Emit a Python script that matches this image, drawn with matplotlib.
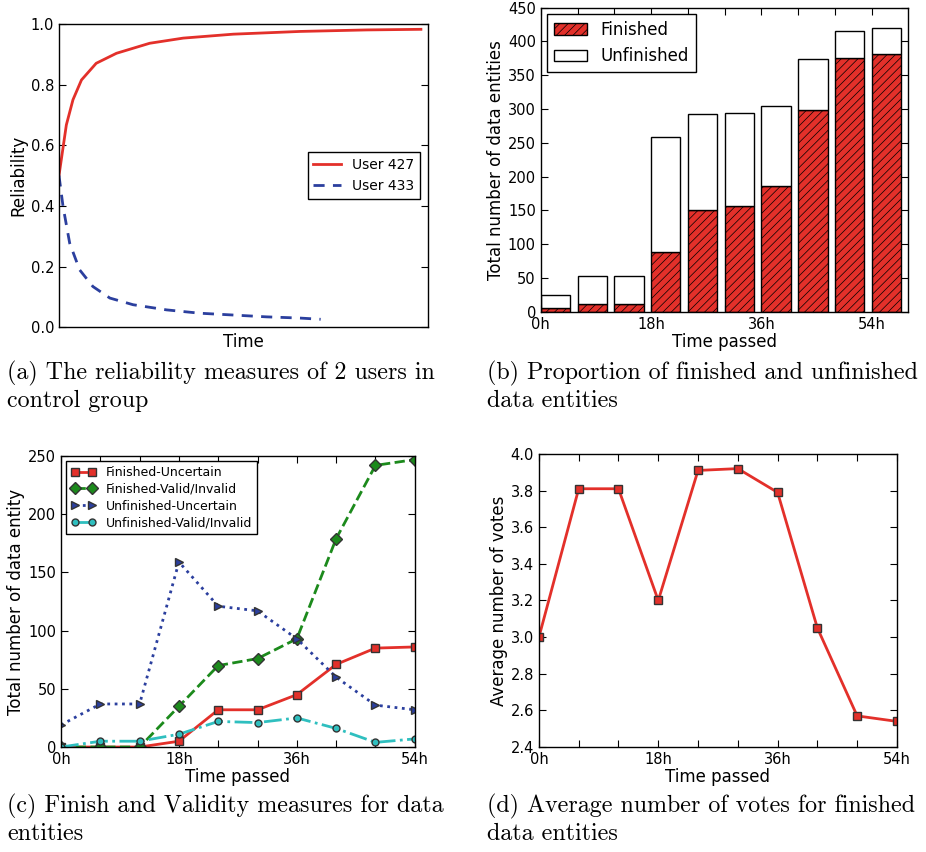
import matplotlib
matplotlib.use('Agg')
import matplotlib.pyplot as plt
import numpy as np

# (a) reliability curves
t_427 = [0, 2.0, 3.8, 6.1, 10.1, 15.6, 24.6, 33.7, 47.3, 65.4, 83.5, 98.2]
rel_427 = [0.50, 0.667, 0.75, 0.815, 0.87, 0.903, 0.936, 0.953, 0.966, 0.975, 0.980, 0.982]
t_433 = [0, 1.1, 2.9, 5.6, 9.2, 13.8, 20.1, 29.2, 38.2, 47.3, 56.3, 65.4, 71.0]
rel_433 = [0.50, 0.398, 0.277, 0.189, 0.134, 0.096, 0.074, 0.057, 0.046, 0.040, 0.034, 0.030, 0.026]

# (b) bars
hours = [0, 6, 12, 18, 24, 30, 36, 42, 48, 54]
finished = [6, 11, 11, 89, 151, 157, 186, 298, 375, 381]
total = [25, 53, 53, 259, 293, 294, 304, 374, 415, 420]
unfinished = [t - f for t, f in zip(total, finished)]

# (c) finish / validity
fin_unc = [0, 0, 0, 5, 32, 32, 45, 71, 85, 86]
fin_val = [0, 0, 0, 35, 70, 76, 93, 179, 242, 247]
unf_unc = [19, 37, 37, 159, 121, 117, 93, 60, 36, 32]
unf_val = [0, 5, 5, 11, 22, 21, 25, 16, 4, 7]

# (d) average votes
avg_votes = [3.00, 3.81, 3.81, 3.20, 3.91, 3.92, 3.79, 3.05, 2.57, 2.54]

tick_labels = ['0h', '', '', '18h', '', '', '36h', '', '', '54h']

RED = '#e3302a'
BLUE = '#2b3f9e'
GREEN = '#1c8a1c'
CYAN = '#2fbfbf'

plt.rcParams['font.family'] = 'DejaVu Sans'
plt.rcParams['xtick.direction'] = 'in'
plt.rcParams['ytick.direction'] = 'in'
plt.rcParams['xtick.top'] = True
plt.rcParams['ytick.right'] = True
plt.rcParams['xtick.major.size'] = 5
plt.rcParams['ytick.major.size'] = 5
plt.rcParams['xtick.labelsize'] = 10.5
plt.rcParams['ytick.labelsize'] = 10.5
plt.rcParams['axes.labelsize'] = 12
plt.rcParams['hatch.linewidth'] = 0.5
plt.rcParams['hatch.color'] = '#7a1a10'

fig = plt.figure(figsize=(9.26, 8.52), dpi=100)

# ---- (a)
ax1 = fig.add_axes([0.0637, 0.616, 0.398, 0.356])
ax1.plot(t_427, rel_427, color=RED, lw=2, label='User 427')
ax1.plot(t_433, rel_433, color=BLUE, lw=2, ls='--', dashes=(4, 3), label='User 433')
ax1.set_xlim(0, 100)
ax1.set_ylim(0, 1.0)
ax1.set_yticks(np.arange(0, 1.01, 0.2))
ax1.set_xticks([])
ax1.set_xlabel('Time', labelpad=4)
ax1.set_ylabel('Reliability', labelpad=2)
ax1.legend(loc='center right', bbox_to_anchor=(0.99, 0.5), fontsize=10,
           fancybox=False, edgecolor='black', framealpha=1, borderaxespad=0.3)

# ---- (b)
ax2 = fig.add_axes([0.584, 0.634, 0.397, 0.357])
ax2.bar(hours, finished, width=4.8, align='edge', color=RED, edgecolor='black',
        lw=1, hatch='////', label='Finished')
ax2.bar(hours, unfinished, width=4.8, align='edge', bottom=finished, color='white',
        edgecolor='black', lw=1, label='Unfinished')
ax2.set_xlim(0, 60)
ax2.set_ylim(0, 450)
ax2.set_yticks(range(0, 451, 50))
ax2.set_xticks(hours)
ax2.set_xticklabels(tick_labels)
ax2.set_xlabel('Time passed', labelpad=1)
ax2.set_ylabel('Total number of data entities', labelpad=2)
ax2.legend(loc='upper left', fontsize=12, fancybox=False, edgecolor='black',
           framealpha=1, borderaxespad=0.4)

# ---- (c)
ax3 = fig.add_axes([0.0659, 0.1232, 0.382, 0.3415])
ax3.plot(hours, fin_unc, color=RED, lw=2, marker='s', ms=6, mec='#333333',
         label='Finished-Uncertain')
ax3.plot(hours, fin_val, color=GREEN, lw=2, ls='--', marker='D', ms=6, mec='#333333',
         label='Finished-Valid/Invalid')
ax3.plot(hours, unf_unc, color=BLUE, lw=2, ls=':', marker='>', ms=6, mec='#333333',
         label='Unfinished-Uncertain')
ax3.plot(hours, unf_val, color=CYAN, lw=2, ls='-.', marker='o', ms=5, mec='#333333',
         label='Unfinished-Valid/Invalid')
ax3.set_xlim(0, 54)
ax3.set_ylim(0, 250)
ax3.set_yticks(range(0, 251, 50))
ax3.set_xticks(hours)
ax3.set_xticklabels(tick_labels)
ax3.set_xlabel('Time passed', labelpad=1)
ax3.set_ylabel('Total number of data entity', labelpad=2)
ax3.legend(loc='upper left', fontsize=9, fancybox=False, edgecolor='black',
           framealpha=1, borderaxespad=0.4, labelspacing=0.3, numpoints=2)

# ---- (d)
ax4 = fig.add_axes([0.582, 0.1232, 0.3866, 0.344])
ax4.plot(hours, avg_votes, color=RED, lw=2, marker='s', ms=6, mec='#333333')
ax4.set_xlim(0, 54)
ax4.set_ylim(2.4, 4.0)
ax4.set_yticks(np.arange(2.4, 4.01, 0.2))
ax4.set_xticks(hours)
ax4.set_xticklabels(tick_labels)
ax4.set_xlabel('Time passed', labelpad=1)
ax4.set_ylabel('Average number of votes', labelpad=2)

for ax in (ax1, ax2, ax3, ax4):
    for sp in ax.spines.values():
        sp.set_linewidth(1)
    for lbl in ax.get_xticklabels() + ax.get_yticklabels():
        lbl.set_clip_on(False)

# captions
cap = dict(fontsize=17.3, family='cmr10', va='top', ha='left', linespacing=1.2)
fig.text(0.008, 1 - 361 / 852, '(a) The reliability measures of 2 users in\ncontrol group', **cap)
fig.text(0.526, 1 - 361 / 852, '(b) Proportion of finished and unfinished\ndata entities', **cap)
fig.text(0.008, 1 - 794 / 852, '(c) Finish and Validity measures for data\nentities', **cap)
fig.text(0.526, 1 - 794 / 852, '(d) Average number of votes for finished\ndata entities', **cap)

fig.savefig('out.png', dpi=100)
